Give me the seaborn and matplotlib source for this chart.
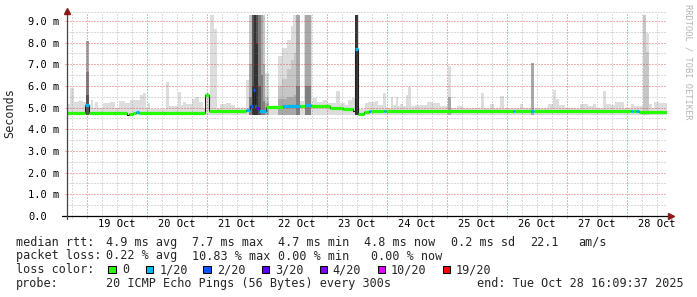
import numpy as np
import pandas as pd
import matplotlib
matplotlib.use("Agg")
import matplotlib.pyplot as plt
import seaborn as sns

# ---------------- data (hours since graph start, 2025-10-18 16:09:37) ----------------
first_midnight = 7.84          # 19 Oct 00:00
graph_span = 240.0

# outer smoke envelope (lightest shade): segment edges and top value (ms)
light_edges = [0, 1.2, 2.8, 4.4, 6.4, 7.6, 8.8, 9.6, 10.4, 11.2, 12.4, 14.4, 15.6, 17.2, 19.2,
               20.8, 23.2, 25.2, 29.2, 30.4, 31.6, 32.4, 33.2, 39.6, 40.8, 44.4, 45.6, 46.4, 47.6,
               50.0, 51.2, 52.8, 54.4, 55.2, 56.8, 57.2, 58.8, 60.0, 61.2, 63.6, 65.6, 67.2, 71.6,
               72.8, 79.2, 80.8, 84.4, 86.0, 88.0, 89.6, 90.4, 93.2, 94.8, 98.0, 98.4, 100.0, 102.4,
               104.0, 107.6, 109.2, 111.2, 112.4, 114.0, 115.2, 116.8, 119.2, 120.4, 123.2, 124.4,
               126.4, 127.6, 129.6, 130.4, 131.6, 132.4, 133.2, 134.4, 135.6, 136.4, 137.6, 139.2,
               144.0, 146.0, 149.2, 152.4, 153.6, 156.0, 158.4, 165.6, 166.8, 169.2, 170.8, 173.2,
               174.8, 177.2, 181.2, 182.4, 185.6, 186.8, 192.4, 194.4, 195.6, 196.8, 199.2, 201.2,
               205.2, 207.2, 208.4, 210.4, 211.6, 214.4, 215.6, 217.6, 219.2, 221.2, 222.8, 225.6,
               226.8, 230.4, 231.6, 232.8, 234.0, 234.8, 236.8, 238.8, 240.0]
light_top = [5.15, 5.9, 5.25, 5.3, 5.25, 8.06, 5.1, 5.34, 5.0, 5.25, 5.0, 5.2, 5.2, 5.25, 5.0,
             5.3, 5.2, 5.35, 5.57, 5.66, 5.0, 5.2, 4.95, 6.17, 5.05, 5.7, 5.1, 5.25, 5.18,
             5.4, 5.47, 5.27, 5.0, 5.66, 5.0, 9.26, 8.62, 5.0, 5.15, 5.2, 5.1, 4.97, 6.26,
             9.26, 6.58, 5.08, 7.37, 7.73, 8.1, 8.77, 9.26, 5.3, 9.26, 5.3, 5.45, 5.25, 5.35,
             5.2, 5.75, 5.22, 5.1, 5.35, 5.43, 9.26, 4.95, 5.2, 5.27, 5.3, 5.1, 5.69, 4.97,
             5.5, 5.1, 5.5, 5.05, 5.15, 5.05, 5.6, 5.95, 5.05, 5.1, 5.25, 5.2, 5.05, 6.9,
             5.0, 5.05, 4.97, 5.69, 4.97, 5.15, 5.0, 5.54, 5.0, 4.97, 5.15, 4.97, 7.06, 4.97,
             5.15, 5.8, 5.4, 5.1, 4.97, 5.0, 5.15, 5.15, 5.05, 5.17, 4.97, 5.75, 5.15, 5.1,
             5.25, 5.27, 4.97, 5.15, 5.05, 9.26, 8.45, 5.15, 5.0, 5.27, 5.22, 5.2]
ping_floor = 4.66

# inner (darker) smoke levels for the busy columns
dark_t0 = [7.6, 72.8, 74.0, 74.8, 75.6, 76.4, 77.6, 78.4, 79.2, 84.4, 86.0, 88.0, 89.6, 90.8,
           91.6, 95.2, 115.2, 116.4, 152.4, 185.6, 230.4, 231.6]
dark_t1 = [8.8, 74.0, 74.8, 75.6, 76.4, 77.6, 78.4, 79.2, 80.8, 86.0, 88.0, 89.6, 90.8, 91.6,
           93.2, 97.6, 116.4, 116.8, 153.6, 186.8, 231.6, 232.8]
lv2 = [8.06, 9.26, 9.26, 9.26, 9.26, 9.26, 9.26, 9.26, 5.5, 6.0, 6.3, 6.8, 7.2, 7.5,
       9.26, 9.26, 9.26, 7.7, 5.5, 7.06, 9.26, 7.57]
lv3 = [8.06, 7.0, 9.26, 9.26, 9.26, 9.26, 9.26, 7.0, 5.2, 5.4, 5.4, 5.5, 5.5, 5.6,
       9.26, 9.26, 9.26, 7.7, 5.5, 7.06, 0, 0]
lv4 = [6.65, 5.5, 9.26, 9.26, 9.26, 9.26, 6.5, 5.3, 0, 0, 0, 0, 0, 0,
       6.0, 6.0, 9.26, 7.7, 0, 0, 0, 0]
lv5 = [5.57, 0, 9.26, 9.26, 9.26, 6.0, 0, 0, 0, 0, 0, 0, 0, 0,
       0, 0, 9.26, 0, 0, 0, 0, 0]
lv6 = [0, 0, 6.0, 9.26, 8.0, 0, 0, 0, 0, 0, 0, 0, 0, 0,
       0, 0, 9.26, 0, 0, 0, 0, 0]

# median rtt (ms) per run, with loss class index (-1 = unknown)
med_t = [0, 7.2, 8.8, 24.0, 24.8, 26.4, 27.6, 28.8, 55.2, 56.8, 71.6, 73.2, 74.4, 75.2, 75.6,
         76.8, 79.6, 86.4, 93.2, 95.2, 97.6, 105.2, 110.4, 114.4, 115.2, 116.4, 118.8, 120.8,
         121.6, 126.8, 127.6, 178.4, 179.2, 185.6, 186.8, 225.6, 226.4, 227.6, 228.8]
med_val = [4.77, 5.12, 4.77, 4.64, 4.68, 4.75, 4.8, 4.76, 5.57, 4.86, 4.88, 5.05, 5.8, 5.05,
           4.98, 4.85, 5.01, 5.06, 5.05, 5.1, 5.06, 4.98, 4.92, 4.84, 7.69, 4.72, 4.8, 4.82,
           4.82, 4.82, 4.83, 4.83, 4.83, 4.83, 4.83, 4.83, 4.83, 4.83, 4.81]
med_loss = [0, 1, 0, -1, 0, 0, 1, 0, 0, 0, 1, 2, 2, 1, 3, 1, 0, 1, 0, 1, 0, 0, 0, -1, 1, 0, 0,
            1, 0, 1, 0, 1, 0, 1, 0, 1, 0, 1, 0]

loss_labels = ["0", "1/20", "2/20", "3/20", "4/20", "10/20", "19/20"]
loss_colors = ["#26ff00", "#00b8ff", "#0059ff", "#5e00ff", "#7e00ff", "#dd00ff", "#ff0000"]

day_labels = ["19 Oct", "20 Oct", "21 Oct", "22 Oct", "23 Oct", "24 Oct", "25 Oct",
              "26 Oct", "27 Oct", "28 Oct"]
y_values = [0, 1, 2, 3, 4, 5, 6, 7, 8, 9]
y_labels = ["0.0", "1.0 m", "2.0 m", "3.0 m", "4.0 m", "5.0 m", "6.0 m", "7.0 m", "8.0 m", "9.0 m"]

row1 = ["median rtt:", "4.9 ms avg", "7.7 ms max", "4.7 ms min", "4.8 ms now", "0.2 ms sd",
        "22.1", "am/s"]
row2 = ["packet loss:", "0.22 % avg", "10.83 % max", "0.00 % min", "0.00 % now"]
row4 = ["probe:", "20 ICMP Echo Pings (56 Bytes) every 300s", "end: Tue Oct 28 16:09:37 2025"]

# ---------------- style ----------------
sns.set_style("white")
plt.rcParams["font.family"] = ["DejaVu Sans Mono", "DejaVu Sans"]

W, H = 697, 297
fig = plt.figure(figsize=(W / 100, H / 100), dpi=100)
fig.patch.set_facecolor("white")
ax_l, ax_r, ax_b, ax_t = 67, 667, 215.8, 12.3
ax = fig.add_axes([ax_l / W, 1 - ax_b / H, (ax_r - ax_l) / W, (ax_b - ax_t) / H])
ax.set_facecolor("white")
ax.set_xlim(0, graph_span)
ax.set_ylim(0, 9.4)
for s in ax.spines.values():
    s.set_visible(False)

# ---------------- smoke ----------------
edges = np.array(light_edges)
tops = np.array(light_top)
n = min(len(edges) - 1, len(tops))
ax.bar(edges[:n], tops[:n] - ping_floor, width=np.diff(edges)[:n], bottom=ping_floor,
       align="edge", color="#dddddd", linewidth=0, antialiased=False, zorder=1)

d0 = np.array(dark_t0)
dw = np.array(dark_t1) - d0
level_colors = ["#c6c6c6", "#a8a8a8", "#808080", "#555555", "#333333"]
for lv, c in zip([lv2, lv3, lv4, lv5, lv6], level_colors):
    lv = np.array(lv, dtype=float)
    m = lv > ping_floor
    ax.bar(d0[m], lv[m] - ping_floor, width=dw[m], bottom=ping_floor, align="edge",
           color=c, linewidth=0, antialiased=False, zorder=1.5)

# ---------------- grid ----------------
minor_c = (0.45, 0.45, 0.45, 0.26)
major_c = (0.88, 0.1, 0.1, 0.34)
dots = (0, (1.4, 1.4))
gkw = dict(linestyles=[dots], lw=0.72, zorder=2, antialiased=False)
six = first_midnight + 6 * np.arange(-4, 44)
six = six[(six > 0) & (six < graph_span)]
frac = ((six - first_midnight) / 24) % 1
is_major = np.isclose(frac, 0) | np.isclose(frac, 1)
ax.vlines(six[~is_major], 0, 9.4, colors=[minor_c], **gkw)
ax.vlines(six[is_major], 0, 9.4, colors=[major_c], **gkw)
ax.hlines(np.arange(0.5, 9.4, 1.0), 0, graph_span, colors=[minor_c], **gkw)
ax.hlines(np.arange(1, 10), 0, graph_span, colors=[major_c], **gkw)
ax.hlines([9.4], 0, graph_span, colors=[minor_c], clip_on=False, **gkw)
# small ticks under the x axis / left of the y axis
ax.vlines(six[~is_major], -0.1, 0, colors=[minor_c], lw=0.72, clip_on=False, antialiased=False)
ax.vlines(six[is_major], -0.1, 0, colors=[major_c], lw=0.72, clip_on=False, antialiased=False)
ax.hlines(np.arange(1, 10), -0.8, 0, colors=[major_c], lw=0.72, clip_on=False, antialiased=False)

# ---------------- median line ----------------
t0 = np.array(med_t, dtype=float)
t1 = np.append(t0[1:], graph_span)
mv = np.array(med_val)
step_df = pd.DataFrame({"t": np.append(t0, graph_span), "v": np.append(mv, mv[-1])})
sns.lineplot(data=step_df, x="t", y="v", drawstyle="steps-post", color="#1e1e1e", lw=0.8,
             sort=False, ax=ax, zorder=4)
ml = np.array(med_loss)
k = ml >= 0
ax.hlines(mv[k], t0[k], t1[k], colors=[loss_colors[i] for i in ml[k]], lw=2.3, zorder=5)
ax.set_xlabel("")
ax.set_ylabel("")

# ---------------- axes lines & arrows ----------------
arrow_c = "#8b1a1a"
ax.plot([-5 / 600, 603 / 600], [0, 0], color="black", lw=0.9, transform=ax.transAxes, clip_on=False, zorder=6)
ax.plot([0, 0], [-3 / 203.5, (215.8 - 11) / 203.5], color="#444444", lw=0.9,
        transform=ax.transAxes, clip_on=False, zorder=6)
ax.plot([603.5 / 600], [0], marker=">", ms=4.2, color=arrow_c, mec=arrow_c,
        transform=ax.transAxes, clip_on=False, zorder=7)
ax.plot([0], [(215.8 - 10.5) / 203.5], marker="^", ms=4.2, color=arrow_c, mec=arrow_c,
        transform=ax.transAxes, clip_on=False, zorder=7)

# ---------------- tick labels ----------------
ax.set_xticks(first_midnight + 12 + 24 * np.arange(len(day_labels)))
ax.set_xticklabels(day_labels)
ax.set_yticks(y_values)
ax.set_yticklabels(y_labels)
ax.tick_params(axis="x", length=0, pad=2.6, labelsize=7.5, colors="black")
ax.tick_params(axis="y", length=0, pad=(67 - 28.5) * 0.72, labelsize=7.5, colors="black")
for lab in ax.get_yticklabels():
    lab.set_horizontalalignment("left")

# ---------------- titles ----------------
def ftxt(x, y, s, **kw):
    fig.text(x / W, 1 - y / H, s, **kw)

ftxt(10, 113, "Seconds", rotation=90, ha="center", va="center", fontsize=8.5)
ftxt(688, 4, "RRDTOOL / TOBI OETIKER", rotation=270, ha="center", va="top", fontsize=6.2,
     color="#b4b4b4")

fs = 8.5
row1_x = [15.5, 106, 192, 278, 364, 451, 530, 578.5]
for s, x in zip(row1, row1_x):
    ftxt(x, 245.7, s, fontsize=fs, va="baseline")
row2_x = [15.5, 106, 192, 278, 371]
for s, x in zip(row2, row2_x):
    ftxt(x, 259.5, s, fontsize=fs, va="baseline")
ftxt(15.5, 273.2, "loss color:", fontsize=fs, va="baseline")
box_x = [108.3, 145.7, 203.3, 261.7, 319.6, 378, 443]
lab_x = [122.5, 159.3, 217, 275.3, 332.6, 391, 456]
for lab, c, bx, lx in zip(loss_labels, loss_colors, box_x, lab_x):
    fig.patches.append(plt.Rectangle((bx / W, 1 - 273 / H), 7.2 / W, 7.2 / H, transform=fig.transFigure,
                                     facecolor=c, edgecolor="black", lw=0.75, figure=fig))
    ftxt(lx, 273.2, lab, fontsize=fs, va="baseline")
row4_x = [15.5, 106, 477]
for s, x in zip(row4, row4_x):
    ftxt(x, 286.8, s, fontsize=fs, va="baseline")

fig.savefig("out.png", dpi=100, facecolor="white")
